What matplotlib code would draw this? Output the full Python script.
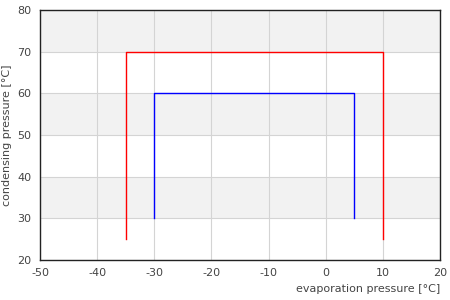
import matplotlib
matplotlib.use("Agg")
import matplotlib.pyplot as plt

plt.rcParams["axes.unicode_minus"] = False

# cycle data (evaporation / condensing temperatures)
blue_x = [-30, -30, 5, 5]
blue_y = [30, 60, 60, 30]
red_x = [-35, -35, 10, 10]
red_y = [25, 70, 70, 25]

x_ticks = [-50, -40, -30, -20, -10, 0, 10, 20]
y_ticks = [20, 30, 40, 50, 60, 70, 80]
bands = [(30, 40), (50, 60), (70, 80)]

txt = "#444444"

fig = plt.figure(figsize=(4.5, 3), dpi=100)
ax = fig.add_axes([40 / 450, 40 / 300, 400 / 450, 250 / 300])

# alternating grey bands
for lo, hi in bands:
    ax.axhspan(lo, hi, color="#f2f2f2", zorder=0, lw=0)

ax.plot(red_x, red_y, color="red", lw=1, zorder=3)
ax.plot(blue_x, blue_y, color="blue", lw=1, zorder=3)

ax.set_xlim(-50, 20)
ax.set_ylim(20, 80)
ax.set_xticks(x_ticks)
ax.set_yticks(y_ticks)
ax.grid(True, color="#d4d4d4", lw=0.8, zorder=1)
ax.set_axisbelow(True)
ax.tick_params(length=0, labelsize=8, labelcolor=txt, pad=6)

for s in ax.spines.values():
    s.set_color("#222222")
    s.set_linewidth(1)

ax.set_xlabel("evaporation pressure [°C]", fontsize=8, color=txt, loc="right")
ax.set_ylabel("condensing pressure [°C]", fontsize=8, color=txt)

fig.savefig("out.png", dpi=100)
